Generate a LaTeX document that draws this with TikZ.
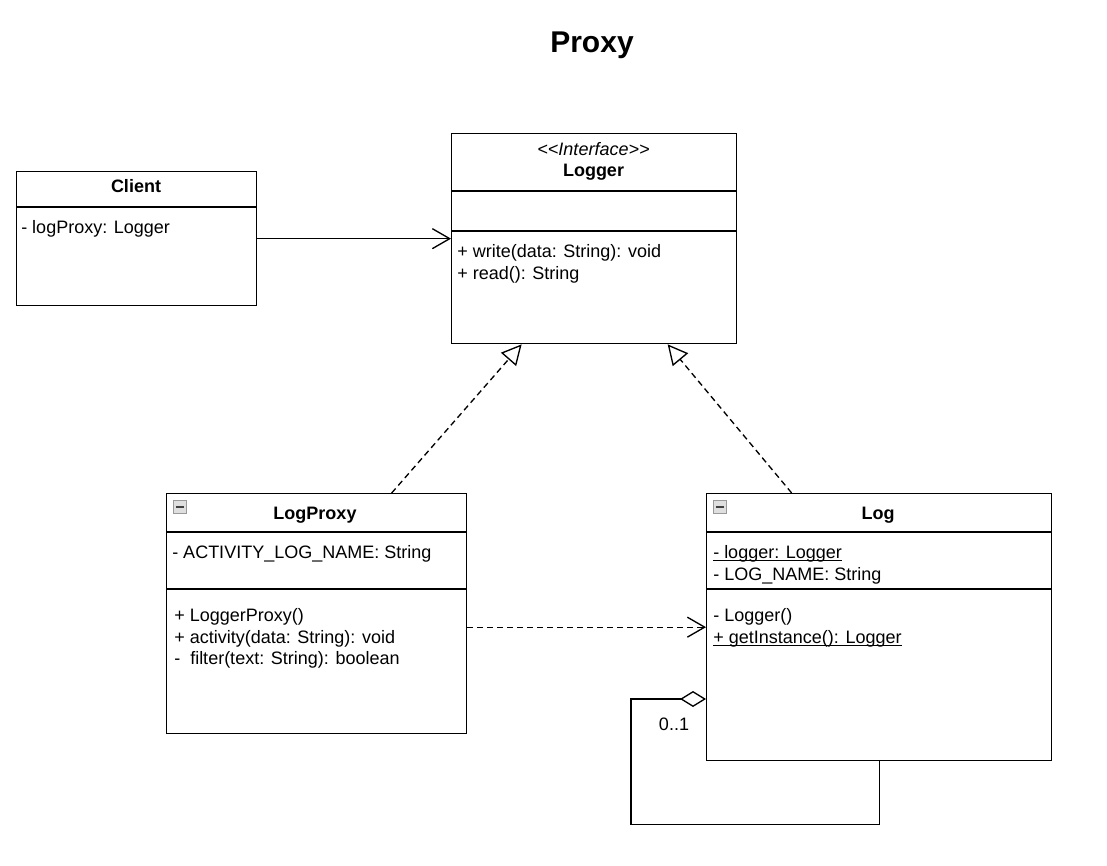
\documentclass[tikz,border=0pt]{standalone}
\usepackage{fontspec}
\setmainfont{Liberation Sans}
\usetikzlibrary{arrows.meta,calc}
\tikzset{
  x=0.75pt, y=-0.75pt,
  cls/.style={draw, line width=1pt, anchor=north west, inner sep=0pt, fill=white},
  txt/.style={font=\fontsize{13.5pt}{16.5pt}\selectfont, inner sep=0pt, anchor=base west},
  hdr/.style={font=\fontsize{13.5pt}{16.5pt}\selectfont\bfseries, inner sep=0pt, anchor=base},
  divider/.style={line width=1pt},
  uline/.style={line width=0.8pt},
  assoc/.style={line width=1pt, -{Straight Barb[length=13pt,width=15pt,line width=1pt]}},
  real/.style={line width=1pt, dash pattern=on 4.5pt off 3pt, -{Triangle[open,length=15pt,width=15pt,line width=1pt,fill=white]}},
  dep/.style={line width=1pt, dash pattern=on 4.5pt off 3pt, -{Straight Barb[length=13pt,width=15pt,line width=1pt]}},
  agg/.style={line width=1pt, -{Diamond[open,length=19.5pt,width=12pt,line width=1pt,fill=white]}},
  icon/.style={draw=gray!80, fill=gray!25, line width=0.6pt, minimum size=9.75pt, inner sep=0pt, anchor=north west},
}
\begin{document}
\begin{tikzpicture}
\useasboundingbox (0,0) rectangle (1107,866);
\fill[white] (0,0) rectangle (1107,866);

% title
\node[font=\fontsize{22.5pt}{27pt}\selectfont\bfseries, inner sep=0pt, anchor=base] (title) at (592,53) {Proxy};

% Client
\node[cls, minimum width=180pt, minimum height=100.5pt] (client) at (16,171) {};
\draw[divider] (client.west |- 0,207) -- (client.east |- 0,207);
\node[hdr] (clientname) at (136,192.5) {Client};
\node[txt] (clienta1) at (21,233.5) {- logProxy: Logger};

% Logger
\node[cls, minimum width=213.75pt, minimum height=157.5pt] (logger) at (451,133) {};
\draw[divider] (logger.west |- 0,191) -- (logger.east |- 0,191);
\draw[divider] (logger.west |- 0,231) -- (logger.east |- 0,231);
\node[txt, anchor=base, font=\fontsize{13.5pt}{16.5pt}\selectfont\itshape] (loggerst) at (593.5,155.5) {<{}<Interface>{}>};
\node[hdr] (loggername) at (593.5,176.5) {Logger};
\node[txt] (loggerm1) at (457,257.5) {+ write(data: String): void};
\node[txt] (loggerm2) at (457,279.5) {+ read(): String};

% LogProxy
\node[cls, minimum width=225pt, minimum height=180pt] (lp) at (166,493) {};
\draw[divider] (lp.west |- 0,532) -- (lp.east |- 0,532);
\draw[divider] (lp.west |- 0,589) -- (lp.east |- 0,589);
\node[icon] (lpicon) at (173,500) {};
\draw[line width=1.2pt, black!75] ($(lpicon.west)+(2.5,0)$) -- ($(lpicon.east)+(-2.5,0)$);
\node[hdr] (lpname) at (315,519.5) {LogProxy};
\node[txt] (lpa1) at (172,558.5) {- ACTIVITY\_LOG\_NAME: String};
\node[txt] (lpm1) at (174,621.5) {+ LoggerProxy()};
\node[txt] (lpm2) at (174,643.5) {+ activity(data: String): void};
\node[txt] (lpm3) at (174,664.5) {-\ \ filter(text: String): boolean};

% Log
\node[cls, minimum width=258.75pt, minimum height=200.25pt] (log) at (706,493) {};
\draw[divider] (log.west |- 0,532) -- (log.east |- 0,532);
\draw[divider] (log.west |- 0,589) -- (log.east |- 0,589);
\node[icon] (logicon) at (713,500) {};
\draw[line width=1.2pt, black!75] ($(logicon.west)+(2.5,0)$) -- ($(logicon.east)+(-2.5,0)$);
\node[hdr] (logname) at (878,519.5) {Log};
\node[txt] (loga1) at (713,558.5) {- logger: Logger};
\draw[uline] ($(loga1.base west)+(0,2)$) -- ($(loga1.base east)+(0,2)$);
\node[txt] (loga2) at (713,580.5) {- LOG\_NAME: String};
\node[txt] (logm1) at (713,621.5) {- Logger()};
\node[txt] (logm2) at (713,643.5) {+ getInstance(): Logger};
\draw[uline] ($(logm2.base west)+(0,2)$) -- ($(logm2.base east)+(0,2)$);

% connectors
\draw[assoc] (client.east) -- (logger.west);
\draw[real] ($(lp.north)+(75,0)$) -- ($(logger.south)+(-72.5,0)$);
\draw[real] ($(log.north)+(-87.5,0)$) -- ($(logger.south)+(73.5,0)$);
\draw[dep] (lp.east |- log.west) -- (log.west);
\coordinate (aggend) at (log.west |- 0,699);
\draw[agg] (log.south) -- ++(0,63) -| (631,699) -- (aggend);
\node[txt, anchor=base] (mult) at (674,730.5) {0..1};
\end{tikzpicture}
\end{document}
